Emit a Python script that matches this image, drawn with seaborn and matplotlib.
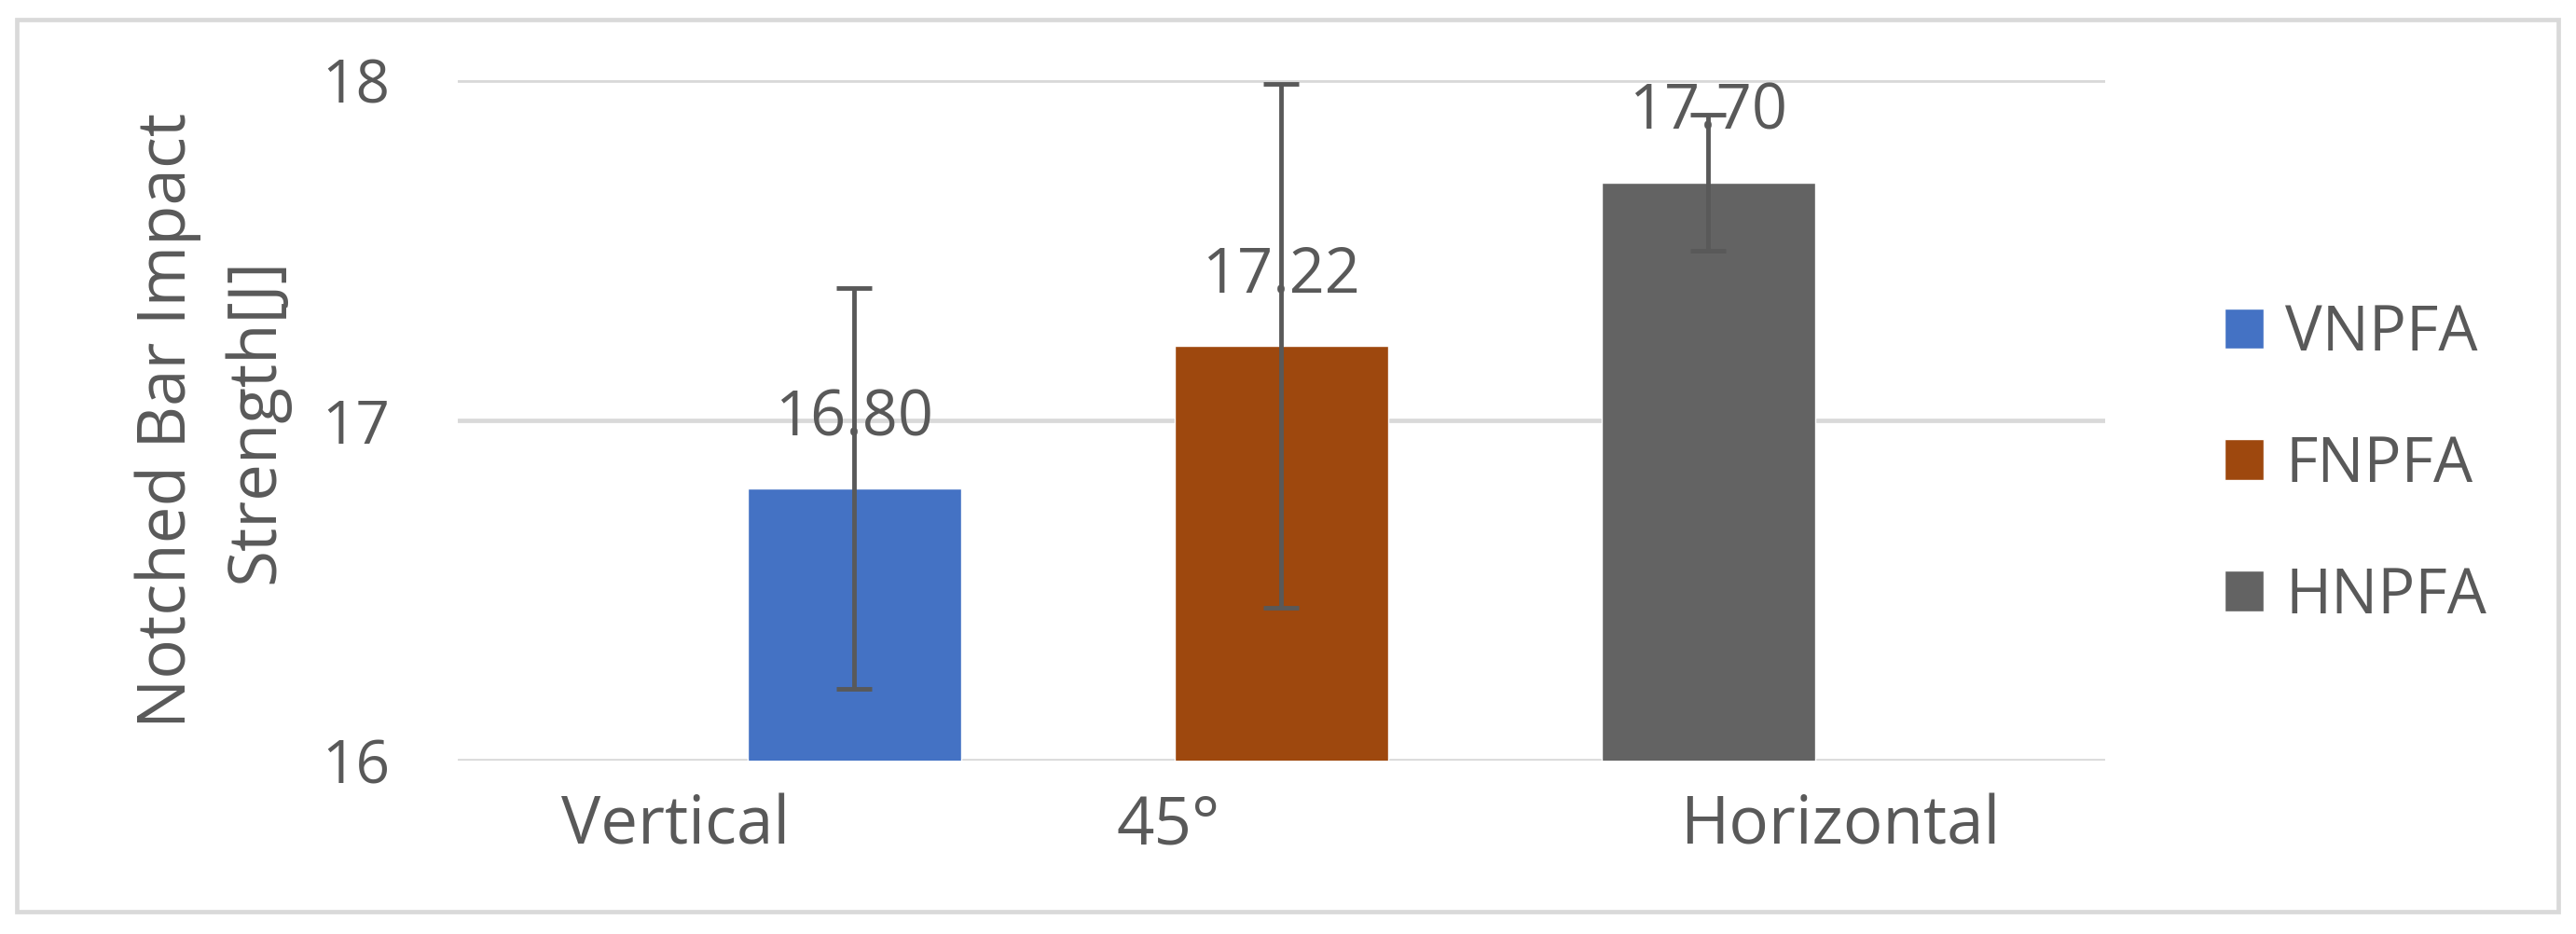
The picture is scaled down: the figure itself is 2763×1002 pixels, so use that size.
import numpy as np
import pandas as pd
import matplotlib
matplotlib.use("Agg")
import matplotlib.pyplot as plt
import seaborn as sns
from matplotlib.patches import Rectangle

# Datos
series = ["VNPFA", "FNPFA", "HNPFA"]
categorias = ["Vertical", "45°", "Horizontal"]
valores = [16.80, 17.22, 17.70]
errores = [0.59, 0.77, 0.20]
colores = ["#4472C4", "#9E480E", "#636363"]
yticks = [16, 17, 18]

sns.set_style("white")
plt.rcParams['font.family'] = ['Open Sans', 'DejaVu Sans']
gris = "#595959"

W, H = 2763, 1002
fig = plt.figure(figsize=(W / 100, H / 100), dpi=100)
ax = fig.add_axes([491 / W, 1 - 816 / H, (2258 - 491) / W, (816 - 86) / H])

df = pd.DataFrame({"serie": series, "valor": valores})
sns.barplot(data=df, x="serie", y="valor", hue="serie", palette=colores,
            width=0.5, dodge=False, saturation=1, legend=False, ax=ax, zorder=2)

# barras de error y etiquetas de datos
barras = ax.patches[:3]
xs = [p.get_x() + p.get_width() / 2 for p in barras]
ax.errorbar(xs, valores, yerr=errores, fmt="none", ecolor=gris,
            elinewidth=3.5, capsize=13.5, capthick=3.5, zorder=5)
for x, v in zip(xs, valores):
    ax.annotate(f"{v:.2f}", (x, v), xytext=(0, 41), textcoords="offset points",
                ha="center", va="baseline", fontsize=48, color=gris, zorder=4)

ax.set_ylim(16, 18)
ax.set_xlim(-0.928, 2.93)
ax.set_yticks(yticks)
ax.set_yticklabels([str(t) for t in yticks])
ax.set_xticks([-0.417, 0.736, 2.31])
ax.set_xticklabels(categorias)
ax.tick_params(axis="y", length=0, pad=52, labelsize=46, labelcolor=gris)
ax.tick_params(axis="x", length=0, pad=25, labelsize=51, labelcolor=gris)
ax.yaxis.grid(True, color="#D9D9D9", linewidth=3.4, zorder=0)
ax.set_axisbelow(True)
for s in ax.spines.values():
    s.set_visible(False)

ax.set_xlabel("")
ax.set_ylabel("Notched Bar Impact\nStrength[J]", fontsize=51, color=gris, linespacing=1.42)
ax.yaxis.set_label_coords(-0.102, 0.5)

# leyenda a la derecha
leg = fig.legend(barras, series, loc="center left", bbox_to_anchor=(2386 / W, 1 - 499 / H),
                 frameon=False, fontsize=48,
                 handlelength=0.63, handleheight=0.63, handletextpad=0.35,
                 labelspacing=1.1, borderpad=0, borderaxespad=0)
for t in leg.get_texts():
    t.set_color(gris)

# borde del grafico
fig.patches.append(Rectangle((18 / W, 1 - 978 / H), (2744 - 18) / W, (978 - 21) / H,
                             transform=fig.transFigure, fill=False,
                             edgecolor="#D9D9D9", linewidth=3.4, zorder=0))

fig.savefig("out.png", dpi=100, facecolor="white")
